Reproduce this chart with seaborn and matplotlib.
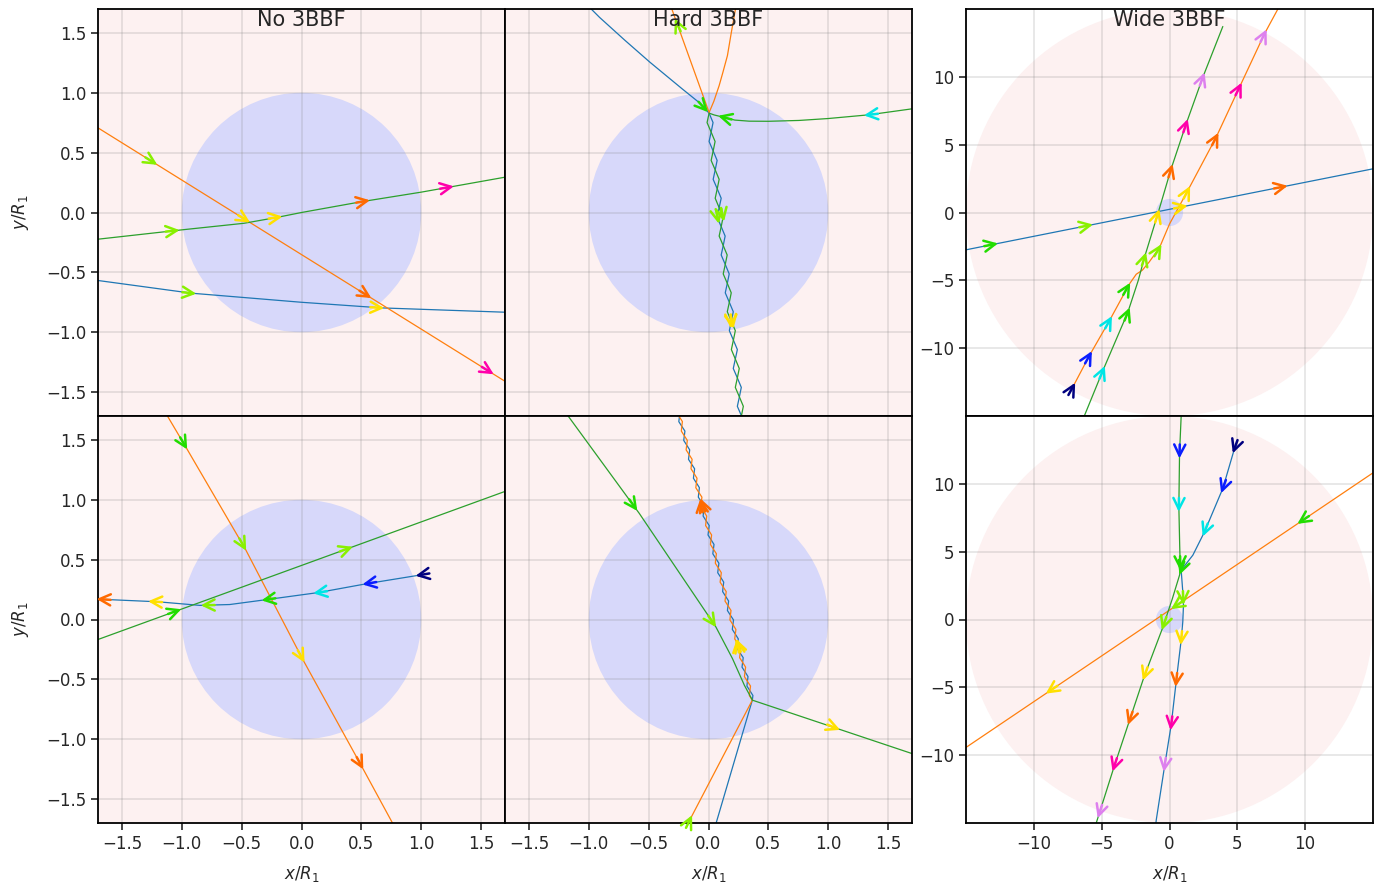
import numpy as np
import matplotlib
matplotlib.use("Agg")
import matplotlib.pyplot as plt
import seaborn as sns
from matplotlib.patches import Circle

sns.set_style("ticks")
plt.rcParams['font.family'] = ['DejaVu Sans']

# colours of the time markers (early -> late)
PHASE_COLORS = ['#00007f', '#0a1eff', '#00e5e5', '#22dd00', '#88f000',
                '#ffe000', '#ff6a00', '#ff00aa', '#dd80ee']
BLUE, ORANGE, GREEN = '#1f77b4', '#ff7f0e', '#2ca02c'

titles = ["No 3BBF", "Hard 3BBF", "Wide 3BBF"]
inner_ticks = [-1.5, -1.0, -0.5, 0.0, 0.5, 1.0, 1.5]
wide_ticks = [-10, -5, 0, 5, 10]

# ---- No 3BBF, top row ----
no_a_orange_x = [-1.70, 1.70]
no_a_orange_y = [0.707, -1.41]
no_a_orange_arrows = [(-1.24, 0.42, 4), (-0.47, -0.07, 5), (0.55, -0.69, 6), (1.57, -1.33, 7)]
no_a_green_x = [-1.70, -1.0, -0.48, -0.2, 0.0, 0.5, 1.0, 1.70]
no_a_green_y = [-0.223, -0.145, -0.09, -0.04, 0.0, 0.09, 0.17, 0.295]
no_a_green_arrows = [(-1.06, -0.15, 4), (-0.2, -0.04, 5), (0.53, 0.10, 6), (1.23, 0.22, 7)]
no_a_blue_x = [-1.70, -0.92, 0.0, 0.67, 1.70]
no_a_blue_y = [-0.568, -0.674, -0.75, -0.797, -0.833]
no_a_blue_arrows = [(-0.92, -0.67, 4), (0.65, -0.795, 5)]

# ---- No 3BBF, bottom row ----
no_b_orange_x = [-1.12, -0.96, -0.47, 0.014, 0.51, 0.76]
no_b_orange_y = [1.70, 1.43, 0.59, -0.34, -1.24, -1.70]
no_b_orange_arrows = [(-0.975, 1.457, 3), (-0.49, 0.607, 4), (0.0, -0.326, 5), (0.494, -1.217, 6)]
no_b_green_x = [-1.70, 1.70]
no_b_green_y = [-0.167, 1.07]
no_b_green_arrows = [(-1.044, 0.072, 3), (0.39, 0.593, 4)]
no_b_blue_x = [0.994, 0.55, 0.14, -0.3, -0.6, -0.85, -1.2, -1.70]
no_b_blue_y = [0.372, 0.30, 0.225, 0.165, 0.125, 0.118, 0.148, 0.17]
no_b_blue_arrows = [(0.994, 0.372, 0), (0.55, 0.30, 1), (0.139, 0.226, 2), (-0.292, 0.162, 3),
                    (-0.8, 0.12, 4), (-1.24, 0.148, 5), (-1.67, 0.168, 6)]

# ---- Hard 3BBF, top row ----
hard_a_blue_in_x = [-0.98, -0.91, -0.70, -0.49, -0.22, -0.08]
hard_a_blue_in_y = [1.70, 1.63, 1.44, 1.256, 1.033, 0.92]
hard_a_green_in_x = [1.70, 1.339, 1.0, 0.756, 0.5, 0.339, 0.22, 0.144, 0.047]
hard_a_green_in_y = [0.866, 0.816, 0.785, 0.769, 0.762, 0.763, 0.772, 0.791, 0.815]
# bound pair: crossing points and the swing of each body in between
hard_a_node_x = [0.005, 0.022, 0.039, 0.056, 0.073, 0.089, 0.106, 0.123, 0.140, 0.157, 0.174,
                 0.191, 0.208, 0.224, 0.241, 0.258, 0.275]
hard_a_node_y = [0.830, 0.672, 0.514, 0.356, 0.198, 0.040, -0.118, -0.276, -0.434, -0.592, -0.750,
                 -0.908, -1.066, -1.224, -1.382, -1.540, -1.698]
hard_a_mid_y = [0.751, 0.593, 0.435, 0.277, 0.119, -0.039, -0.197, -0.355, -0.513, -0.671, -0.829,
                -0.987, -1.145, -1.303, -1.461, -1.619]
hard_a_blue_mid_x = [0.038, 0.005, 0.072, 0.039, 0.106, 0.072, 0.139, 0.106, 0.173, 0.140, 0.207,
                     0.174, 0.241, 0.207, 0.274, 0.241]
hard_a_green_mid_x = [-0.012, 0.055, 0.022, 0.089, 0.056, 0.122, 0.089, 0.156, 0.123, 0.190, 0.157,
                      0.224, 0.191, 0.257, 0.224, 0.291]
hard_a_orange_x = [0.228, 0.19, 0.158, 0.12, 0.089, 0.045, 0.005, -0.31]
hard_a_orange_y = [1.715, 1.50, 1.31, 1.17, 1.06, 0.93, 0.835, 1.71]
hard_a_blue_arrows = [(-0.02, 0.88, 3), (0.11, -0.04, 4), (0.20, -0.93, 5)]
hard_a_green_arrows = [(1.34, 0.816, 2), (0.12, 0.795, 3), (0.11, -0.04, 4), (0.20, -0.93, 5)]
hard_a_orange_arrows = [(-0.27, 1.58, 4)]

# ---- Hard 3BBF, bottom row ----
hard_b_green_x = [-1.18, -0.578, 0.061, 0.20, 0.30, 0.367, 1.70]
hard_b_green_y = [1.71, 0.886, -0.061, -0.326, -0.55, -0.674, -1.12]
hard_b_orange_in_x = [-0.18]
hard_b_orange_in_y = [-1.72]
hard_b_blue_in_x = [0.058]
hard_b_blue_in_y = [-1.72]
hard_b_node_x = [0.366, 0.346, 0.325, 0.305, 0.285, 0.264, 0.244, 0.224, 0.204, 0.183, 0.163,
                 0.143, 0.122, 0.102, 0.082, 0.061, 0.041, 0.021, 0.001, -0.020, -0.040, -0.060,
                 -0.081, -0.101, -0.121, -0.142, -0.162, -0.182, -0.202, -0.223, -0.243]
hard_b_node_y = [-0.674, -0.595, -0.516, -0.437, -0.358, -0.280, -0.201, -0.122, -0.043, 0.036,
                 0.115, 0.194, 0.273, 0.352, 0.431, 0.510, 0.588, 0.667, 0.746, 0.825, 0.904, 0.983,
                 1.062, 1.141, 1.220, 1.299, 1.378, 1.457, 1.535, 1.614, 1.693]
hard_b_mid_y = [-0.635, -0.556, -0.477, -0.398, -0.319, -0.241, -0.162, -0.083, -0.004, 0.075,
                0.154, 0.233, 0.312, 0.391, 0.470, 0.549, 0.627, 0.706, 0.785, 0.864, 0.943, 1.022,
                1.101, 1.180, 1.259, 1.338, 1.417, 1.496, 1.574, 1.653]
hard_b_blue_mid_x = [0.371, 0.321, 0.330, 0.280, 0.290, 0.239, 0.249, 0.199, 0.209, 0.158, 0.168,
                     0.118, 0.127, 0.077, 0.087, 0.036, 0.046, -0.004, 0.006, -0.045, -0.035, -0.085,
                     -0.076, -0.126, -0.116, -0.167, -0.157, -0.207, -0.197, -0.248]
hard_b_orange_mid_x = [0.341, 0.351, 0.300, 0.310, 0.260, 0.269, 0.219, 0.229, 0.179, 0.188, 0.138,
                       0.148, 0.097, 0.107, 0.057, 0.066, 0.016, 0.026, -0.024, -0.015, -0.065,
                       -0.055, -0.106, -0.096, -0.146, -0.137, -0.187, -0.177, -0.227, -0.218]
hard_b_green_arrows = [(-0.62, 0.94, 3), (0.04, -0.03, 4), (1.06, -0.91, 5)]
hard_b_orange_arrows = [(-0.16, -1.67, 4), (0.24, -0.20, 5), (-0.06, 0.97, 6)]
hard_b_blue_arrows = [(0.24, -0.20, 5), (-0.06, 0.97, 6)]

# ---- Wide 3BBF, top row ----
wide_a_blue_x = [-15.0, 15.0]
wide_a_blue_y = [-2.75, 3.22]
wide_a_blue_arrows = [(-13.0, -2.35, 3), (-6.0, -0.95, 4), (0.98, 0.44, 5), (8.35, 1.91, 6)]
wide_a_green_x = [-6.28, -4.91, -3.07, -2.3, -1.84, -0.86, 0.12, 1.23, 2.46, 3.93]
wide_a_green_y = [-15.0, -11.65, -7.35, -5.0, -3.29, -0.1, 3.22, 6.54, 9.98, 13.71]
wide_a_green_arrows = [(-4.91, -11.65, 2), (-3.07, -7.35, 3), (-1.84, -3.29, 4), (-0.86, -0.1, 5),
                       (0.12, 3.22, 6), (1.23, 6.54, 7), (2.46, 9.98, 8)]
wide_a_orange_x = [-7.13, -5.9, -4.42, -2.95, -2.45, -2.0, -1.5, -0.74, 0.0, 1.35, 3.44, 5.16, 7.0, 7.99]
wide_a_orange_y = [-12.87, -10.54, -7.96, -5.26, -4.55, -4.25, -3.65, -2.6, -0.85, 1.62, 5.55, 9.24, 13.17, 15.0]
wide_a_orange_arrows = [(-7.13, -12.87, 0), (-5.9, -10.54, 1), (-4.42, -7.96, 2), (-3.07, -5.5, 3),
                        (-0.74, -2.68, 4), (1.35, 1.62, 5), (3.44, 5.55, 6), (5.16, 9.24, 7),
                        (7.0, 13.17, 8)]

# ---- Wide 3BBF, bottom row ----
wide_b_orange_x = [15.0, -15.0]
wide_b_orange_y = [10.81, -9.43]
wide_b_orange_arrows = [(9.7, 7.3, 3), (0.4, 1.0, 4), (-8.85, -5.21, 5)]
wide_b_green_x = [0.86, 0.74, 0.69, 0.75, 0.79, 0.75, 0.2, -0.5, -1.9, -3.0, -4.1, -5.4]
wide_b_green_y = [15.0, 12.24, 8.3, 5.5, 4.0, 3.3, 1.5, -0.6, -4.3, -7.6, -10.9, -15.0]
wide_b_green_arrows = [(0.74, 12.24, 1), (0.69, 8.3, 2), (0.79, 4.0, 3), (-0.49, -0.42, 4),
                       (-1.97, -4.1, 5), (-2.95, -7.42, 6), (-4.05, -10.86, 7), (-5.16, -14.3, 8)]
wide_b_blue_x = [4.79, 3.93, 2.58, 1.72, 0.86, 0.98, 1.03, 0.98, 0.86, 0.49, 0.12, -0.37, -0.98, -1.0]
wide_b_blue_y = [12.6, 9.66, 6.46, 4.74, 3.64, 2.04, 1.06, -0.17, -1.52, -4.6, -7.8, -10.86, -14.8, -15.0]
wide_b_blue_arrows = [(4.79, 12.6, 0), (3.93, 9.66, 1), (2.58, 6.46, 2), (0.86, 3.64, 3), (0.98, 1.43, 4),
                      (0.86, -1.52, 5), (0.49, -4.6, 6), (0.12, -7.8, 7), (-0.37, -10.86, 8)]


def braid(in_x, in_y, node_x, node_y, mid_x, mid_y):
    # approach path followed by the alternating crossing/swing points
    bx = np.empty(len(node_x) + len(mid_x))
    by = np.empty_like(bx)
    bx[0::2], bx[1::2] = node_x, mid_x
    by[0::2], by[1::2] = node_y, mid_y
    return np.concatenate([in_x, bx]), np.concatenate([in_y, by])


hard_a_blue_x, hard_a_blue_y = braid(hard_a_blue_in_x, hard_a_blue_in_y, hard_a_node_x,
                                     hard_a_node_y, hard_a_blue_mid_x, hard_a_mid_y)
hard_a_green_x, hard_a_green_y = braid(hard_a_green_in_x, hard_a_green_in_y, hard_a_node_x,
                                       hard_a_node_y, hard_a_green_mid_x, hard_a_mid_y)
hard_b_blue_x, hard_b_blue_y = braid(hard_b_blue_in_x, hard_b_blue_in_y, hard_b_node_x,
                                     hard_b_node_y, hard_b_blue_mid_x, hard_b_mid_y)
hard_b_orange_x, hard_b_orange_y = braid(hard_b_orange_in_x, hard_b_orange_in_y, hard_b_node_x,
                                         hard_b_node_y, hard_b_orange_mid_x, hard_b_mid_y)

panels = {
    (0, 0): [(no_a_blue_x, no_a_blue_y, BLUE, no_a_blue_arrows),
             (no_a_orange_x, no_a_orange_y, ORANGE, no_a_orange_arrows),
             (no_a_green_x, no_a_green_y, GREEN, no_a_green_arrows)],
    (1, 0): [(no_b_blue_x, no_b_blue_y, BLUE, no_b_blue_arrows),
             (no_b_orange_x, no_b_orange_y, ORANGE, no_b_orange_arrows),
             (no_b_green_x, no_b_green_y, GREEN, no_b_green_arrows)],
    (0, 1): [(hard_a_blue_x, hard_a_blue_y, BLUE, hard_a_blue_arrows),
             (hard_a_orange_x, hard_a_orange_y, ORANGE, hard_a_orange_arrows),
             (hard_a_green_x, hard_a_green_y, GREEN, hard_a_green_arrows)],
    (1, 1): [(hard_b_blue_x, hard_b_blue_y, BLUE, hard_b_blue_arrows),
             (hard_b_orange_x, hard_b_orange_y, ORANGE, hard_b_orange_arrows),
             (hard_b_green_x, hard_b_green_y, GREEN, hard_b_green_arrows)],
    (0, 2): [(wide_a_blue_x, wide_a_blue_y, BLUE, wide_a_blue_arrows),
             (wide_a_orange_x, wide_a_orange_y, ORANGE, wide_a_orange_arrows),
             (wide_a_green_x, wide_a_green_y, GREEN, wide_a_green_arrows)],
    (1, 2): [(wide_b_blue_x, wide_b_blue_y, BLUE, wide_b_blue_arrows),
             (wide_b_orange_x, wide_b_orange_y, ORANGE, wide_b_orange_arrows),
             (wide_b_green_x, wide_b_green_y, GREEN, wide_b_green_arrows)],
}


def draw_arrows(ax, xs, ys, arrows, unit):
    # unit = data length of one pixel; arrows snap onto the path and follow it
    pts = np.column_stack([xs, ys]).astype(float)
    a, b = pts[:-1], pts[1:]
    d = b - a
    for px, py, phase in arrows:
        p = np.array([px, py])
        t = np.clip(((p - a) * d).sum(1) / (d ** 2).sum(1), 0, 1)
        proj = a + t[:, None] * d
        i = np.hypot(*(proj - p).T).argmin()
        v = pts[min(i + 2, len(pts) - 1)] - pts[max(i - 1, 0)]
        v = v / np.hypot(*v)
        tip = proj[i] + v * 5 * unit
        tail = proj[i] - v * 9 * unit
        ax.annotate('', xy=tip, xytext=tail, zorder=4, annotation_clip=False,
                    arrowprops=dict(arrowstyle='->', color=PHASE_COLORS[phase], lw=1.8,
                                    mutation_scale=20, shrinkA=0, shrinkB=0))


fig = plt.figure(figsize=(13.8, 8.82), dpi=100)
col_left = [98 / 1380, 505 / 1380, 966 / 1380]
row_bottom = [(882 - 416) / 882, (882 - 823) / 882]
w, h = 407 / 1380, 407 / 882

for (r, c), trajs in panels.items():
    ax = fig.add_axes([col_left[c], row_bottom[r], w, h])
    lim = 15 if c == 2 else 1.7
    ax.add_patch(Circle((0, 0), 15, color='#fdf1f1', lw=0, zorder=0))
    ax.add_patch(Circle((0, 0), 1, color='#d7d8fa', lw=0, zorder=0.1))
    for xs, ys, col, arrows in trajs:
        sns.lineplot(x=np.asarray(xs), y=np.asarray(ys), sort=False, estimator=None,
                     color=col, lw=0.9, ax=ax, zorder=2)
        draw_arrows(ax, xs, ys, arrows, 2 * lim / 407)
    ax.set_xlim(-lim, lim)
    ax.set_ylim(-lim, lim)
    ticks = wide_ticks if c == 2 else inner_ticks
    ax.set_xticks(ticks)
    ax.set_yticks(ticks)
    ax.grid(True, color='0.5', alpha=0.2, lw=1.3)
    ax.tick_params(labelsize=12, length=5, width=1.2)
    for s in ax.spines.values():
        s.set_linewidth(1.3)
        s.set_color('black')
    if r == 0:
        ax.tick_params(bottom=False, labelbottom=False)
        ax.text(0.5, 0.997, titles[c], transform=ax.transAxes, ha='center', va='top',
                fontsize=15, zorder=5)
        ax.set_xlabel('')
    else:
        ax.set_xlabel(r'$x/R_1$', fontsize=12, labelpad=8)
    if c == 1:
        ax.tick_params(left=False, labelleft=False)
        ax.set_ylabel('')
    elif c == 0:
        ax.set_ylabel(r'$y/R_1$', fontsize=12, labelpad=11)
    else:
        ax.set_ylabel('')

fig.savefig("out.png", dpi=100)
